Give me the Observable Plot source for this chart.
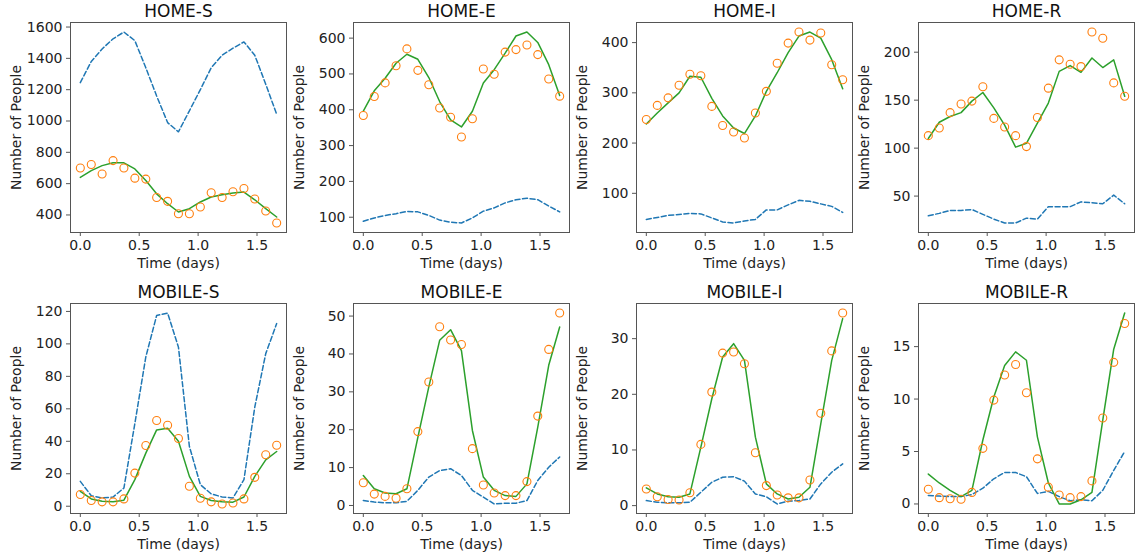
<!DOCTYPE html>
<html>
<head>
<meta charset="utf-8">
<script src="https://cdn.jsdelivr.net/npm/d3@7"></script>
<script src="https://cdn.jsdelivr.net/npm/@observablehq/plot@0.6"></script>
<style>
  html, body { margin: 0; padding: 0; background: #fff; }
  #chart { position: relative; width: 1141px; height: 559px; font-family: "DejaVu Sans", sans-serif; }
  #chart svg { position: absolute; overflow: visible; }
</style>
</head>
<body>
<div id="chart"></div>
<script>
// Time points (days)
const time = [0, 0.093, 0.185, 0.278, 0.370, 0.463, 0.556, 0.648, 0.741, 0.833, 0.926, 1.019, 1.111, 1.204, 1.296, 1.389, 1.481, 1.574, 1.667];
const xTicks = [0, 0.5, 1.0, 1.5];

// Panel titles
const titles = ["HOME-S", "HOME-E", "HOME-I", "HOME-R", "MOBILE-S", "MOBILE-E", "MOBILE-I", "MOBILE-R"];

// Dashed (blue) series
const homeS_dashed = [1245, 1380, 1460, 1525, 1568, 1513, 1340, 1160, 990, 931, 1065, 1200, 1340, 1420, 1465, 1505, 1420, 1235, 1043];
const homeE_dashed = [89, 98, 105, 110, 116, 115, 105, 92, 86, 84, 98, 117, 126, 140, 149, 153, 149, 131, 115];
const homeI_dashed = [48, 52, 56, 58, 60, 59, 51, 43, 41, 45, 48, 67, 67, 77, 86, 84, 79, 74, 62];
const homeR_dashed = [29.5, 32, 35, 35, 36, 31, 26, 22, 22, 27, 26, 39, 39, 39, 44, 43, 42, 51, 42];
const mobileS_dashed = [15.3, 6.5, 5.1, 5.7, 11.2, 51, 92, 117.5, 119, 98, 36.8, 13.3, 7.6, 5.7, 5.1, 16.4, 61, 94, 112.5];
const mobileE_dashed = [1.3, 0.9, 0.7, 0.7, 1.1, 4, 7.5, 9.2, 9.7, 7.9, 4, 2.2, 0.4, 0.6, 0.6, 1.3, 6.6, 10.1, 12.8];
const mobileI_dashed = [0.9, 0.6, 0.5, 0.5, 0.6, 2.4, 4.2, 5.1, 5.2, 4.4, 2.1, 1.6, 0.3, 0.8, 0.9, 1.2, 3.9, 6, 7.5];
const mobileR_dashed = [0.8, 0.75, 0.7, 0.7, 0.9, 1.5, 2.4, 3.0, 3.0, 2.6, 1.0, 1.2, 0.7, 0.3, 0.4, 0.3, 1.3, 3.2, 5.0];

// Solid (green) series
const homeS_fit = [640, 683, 715, 733, 733, 694, 620, 535, 472, 419, 440, 483, 515, 529, 540, 546, 497, 440, 387];
const homeE_fit = [396, 453, 488, 530, 555, 541, 490, 423, 372, 352, 396, 475, 512, 558, 606, 617, 588, 526, 440];
const homeI_fit = [238, 260, 280, 300, 333, 331, 289, 254, 230, 219, 254, 303, 340, 380, 413, 421, 409, 366, 308];
const homeR_fit = [110, 127, 133, 137, 149, 158, 142, 124, 101, 105, 126, 147, 180, 186, 179, 194, 184, 192, 154];
const mobileS_fit = [9.2, 4.5, 3.1, 2.7, 3.7, 16.4, 32.7, 47, 48, 40, 18.4, 6.1, 3.5, 2.7, 2.5, 5.7, 18.4, 28.6, 33.7];
const mobileE_fit = [7.9, 4.4, 3.3, 3.1, 4.4, 18, 31.3, 43.6, 46.4, 40.9, 19.8, 7.5, 4, 2.6, 2.4, 5.7, 20.7, 37, 47.1];
const mobileI_fit = [3.2, 2.1, 1.6, 1.5, 2.1, 10.5, 19.2, 26.7, 29.1, 26.1, 12.3, 3.9, 2.1, 1.2, 1.5, 3.3, 14.7, 26.1, 33.6];
const mobileR_fit = [2.85, 2.0, 1.3, 0.7, 1.3, 6.1, 10.2, 13.2, 14.5, 13.7, 6.4, 2.0, 0.0, 0.0, 0.4, 1.1, 8.0, 14.75, 18.2];

// Observed (orange circles) series
const homeS_obs = [700, 722, 662, 747, 700, 635, 629, 512, 487, 408, 408, 451, 542, 512, 548, 569, 502, 425, 349];
const homeE_obs = [384, 437, 475, 523, 570, 510, 470, 405, 379, 324, 375, 514, 499, 561, 568, 581, 554, 486, 438];
const homeI_obs = [247, 275, 290, 315, 337, 334, 273, 235, 222, 210, 260, 303, 359, 399, 421, 405, 419, 356, 326];
const homeR_obs = [113, 121, 137, 146, 149, 164, 131, 122, 113, 101.6, 132, 162.5, 192, 187.5, 185, 221, 214.6, 168, 154];
const mobileS_obs = [7.2, 3.5, 2.7, 2.7, 4.5, 20.4, 37.4, 52.8, 49.9, 41.7, 12.3, 4.9, 2.7, 1.4, 2, 4.5, 17.8, 31.7, 37.6];
const mobileE_obs = [6, 3, 2.4, 1.9, 4.4, 19.5, 32.6, 47.2, 43.7, 42.5, 15, 5.4, 3.3, 2.6, 2.6, 6.3, 23.6, 41.2, 50.8];
const mobileI_obs = [3, 1.6, 1.1, 1, 2.3, 11, 20.4, 27.4, 27.6, 25.5, 9.5, 3.6, 1.9, 1.4, 1.4, 4.6, 16.6, 27.8, 34.6];
const mobileR_obs = [1.4, 0.6, 0.5, 0.45, 1.1, 5.3, 9.9, 12.3, 13.3, 10.6, 4.3, 1.6, 0.85, 0.6, 0.7, 2.2, 8.2, 13.5, 17.2];

// Y tick labels per panel
const yTicks = [
  [400, 600, 800, 1000, 1200, 1400, 1600],
  [100, 200, 300, 400, 500, 600],
  [100, 200, 300, 400],
  [50, 100, 150, 200],
  [0, 20, 40, 60, 80, 100, 120],
  [0, 10, 20, 30, 40, 50],
  [0, 10, 20, 30],
  [0, 5, 10, 15]
];

const dashedSeries = [homeS_dashed, homeE_dashed, homeI_dashed, homeR_dashed, mobileS_dashed, mobileE_dashed, mobileI_dashed, mobileR_dashed];
const fitSeries = [homeS_fit, homeE_fit, homeI_fit, homeR_fit, mobileS_fit, mobileE_fit, mobileI_fit, mobileR_fit];
const obsSeries = [homeS_obs, homeE_obs, homeI_obs, homeR_obs, mobileS_obs, mobileE_obs, mobileI_obs, mobileR_obs];

const colLefts = [70, 353, 636, 918];
const rowTops = [22, 303];
const axW = 216, axH = 210;
const mL = 70, mR = 8, mT = 22, mB = 49;

const chart = document.getElementById("chart");
const xPad = (time[time.length - 1] - time[0]) * 0.05;

titles.forEach((title, k) => {
  const row = Math.floor(k / 4), col = k % 4;
  const rows = time.map((t, i) => ({t, dashed: dashedSeries[k][i], fit: fitSeries[k][i], obs: obsSeries[k][i]}));
  const all = [...dashedSeries[k], ...fitSeries[k], ...obsSeries[k]];
  const lo = d3.min(all), hi = d3.max(all), pad = (hi - lo) * 0.05;
  const svg = Plot.plot({
    width: mL + axW + mR,
    height: mT + axH + mB,
    marginLeft: mL, marginRight: mR, marginTop: mT, marginBottom: mB,
    style: {fontFamily: "DejaVu Sans, sans-serif", fontSize: "14px", color: "#222", background: "transparent"},
    x: {domain: [time[0] - xPad, time[time.length - 1] + xPad]},
    y: {domain: [lo - pad, hi + pad]},
    marks: [
      Plot.axisX({ticks: xTicks, tickFormat: d3.format(".1f"), tickSize: 4, tickPadding: 4, fontSize: 14,
        label: "Time (days)", labelAnchor: "center", labelArrow: "none", labelOffset: 35, stroke: "#555"}),
      Plot.axisY({ticks: yTicks[k], tickFormat: d => String(d), tickSize: 4, tickPadding: 4, fontSize: 14,
        label: "Number of People", labelAnchor: "center", labelArrow: "none", labelOffset: 59, stroke: "#555"}),
      Plot.line(rows, {x: "t", y: "dashed", stroke: "#1f77b4", strokeWidth: 1.5, strokeDasharray: "5,2.6"}),
      Plot.line(rows, {x: "t", y: "fit", stroke: "#2ca02c", strokeWidth: 1.5}),
      Plot.dot(rows, {x: "t", y: "obs", r: 4, stroke: "#ff7f0e", strokeWidth: 1.1, fill: "none"}),
      Plot.frame({stroke: "#555", strokeWidth: 1}),
      Plot.text([title], {frameAnchor: "top", dy: -11, fontSize: 17, fill: "#111", lineAnchor: "middle", textAnchor: "middle"})
    ]
  });
  svg.style.left = (colLefts[col] - mL) + "px";
  svg.style.top = (rowTops[row] - mT) + "px";
  chart.appendChild(svg);
});
</script>
</body>
</html>
